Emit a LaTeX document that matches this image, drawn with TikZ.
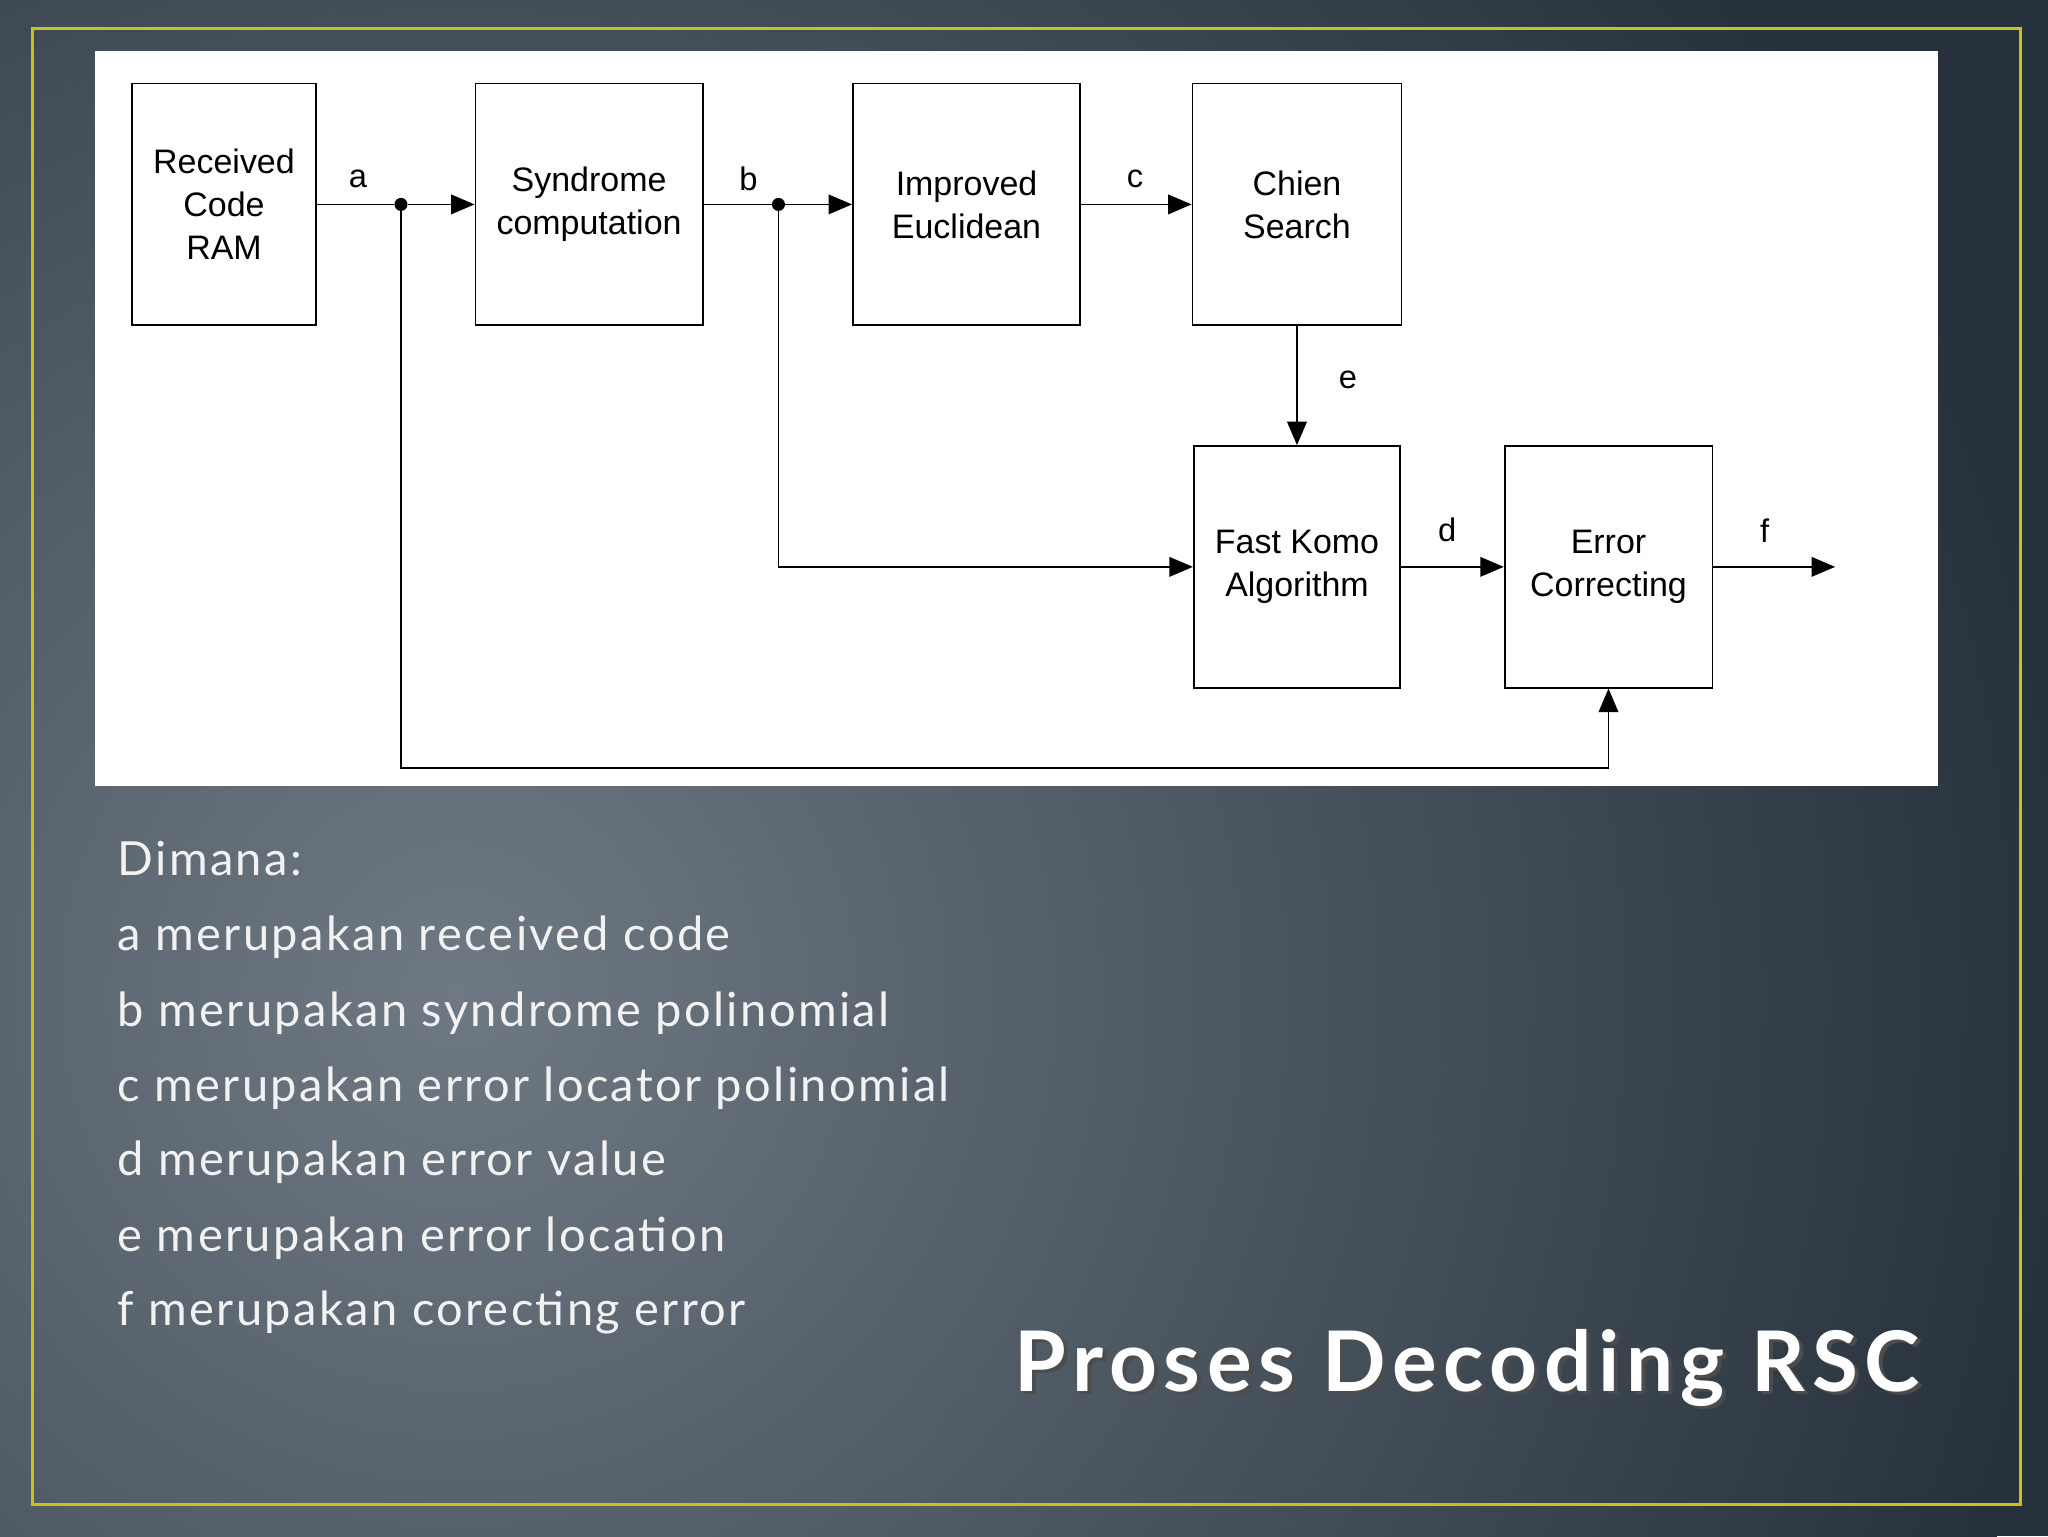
\documentclass[tikz,border=0pt]{standalone}
\usepackage{fontspec}
\setmainfont{Liberation Sans}
\newfontfamily\gill[LetterSpace=5]{Lato}
\newfontfamily\gillT[LetterSpace=8]{Lato}
\usetikzlibrary{arrows.meta,shadings}
\definecolor{bgin}{HTML}{6E7984}
\definecolor{bgout}{HTML}{27313C}
\definecolor{frame}{HTML}{C9C21E}
\begin{document}
\begin{tikzpicture}[x=1pt,y=-1pt,
  blk/.style={draw,line width=1.3pt,minimum width=#1,minimum height=185pt,align=center,font=\fontsize{26}{33}\selectfont,inner sep=0pt},
  con/.style={line width=1.3pt},
  arr/.style={con,-{Triangle[length=18pt,width=15pt]}},
  lab/.style={font=\fontsize{25}{28}\selectfont},
  dot/.style={circle,fill,inner sep=0pt,minimum size=10pt}]
\useasboundingbox (0,0) rectangle (1568,1176);
\fill[bgout] (0,0) rectangle (1568,1176);
\begin{scope}
\clip (0,0) rectangle (1568,1176);
\shade[inner color=bgin,outer color=bgout] (350,760) circle (1250pt);
\end{scope}
\fill[white] (73,39) rectangle (1484,602);
\draw[frame,line width=2.5pt] (25,22) rectangle (1547,1152);
\node[blk=141pt] (rc) at (171.5,156.5) {Received\\Code\\RAM};
\node[blk=174pt] (sc) at (451,156.5) {Syndrome\\computation};
\node[blk=174pt] (ie) at (740,156.5) {Improved\\Euclidean};
\node[blk=160pt] (cs) at (993,156.5) {Chien\\Search};
\node[blk=158pt] (fk) at (993,434) {Fast Komo\\Algorithm};
\node[blk=159pt] (ec) at (1231.5,434) {Error\\Correcting};
\node[dot] (da) at (307,156.5) {};
\node[dot] (db) at (596,156.5) {};
\coordinate (fo) at (1405,434);
\coordinate (a1) at (307,588);
\coordinate (a2) at (1231.5,588);
\coordinate (b1) at (596,434);
\draw[con] (rc.east) -- (da);
\draw[arr] (da) -- (sc.west);
\draw[con] (sc.east) -- (db);
\draw[arr] (db) -- (ie.west);
\draw[arr] (ie.east) -- (cs.west);
\draw[arr] (cs.south) -- (fk.north);
\draw[arr] (fk.east) -- (ec.west);
\draw[arr] (ec.east) -- (fo);
\draw[arr] (da) -- (a1) -- (a2) -- (ec.south);
\draw[arr] (db) -- (b1) -- (fk.west);
\node[lab] at (274,137) {a};
\node[lab] at (573,137) {b};
\node[lab] at (869,137) {c};
\node[lab] at (1032,291) {e};
\node[lab] at (1108,406) {d};
\node[lab] at (1351,406) {f};
\begin{scope}[every node/.style={anchor=base west,text=white!90!gray,font=\gill\fontsize{36}{40}\selectfont,inner sep=0pt}]
\node (t0) at (90,670) {Dimana:};
\node (t1) at (90,728) {a merupakan received code};
\node (t2) at (90,786) {b merupakan syndrome polinomial};
\node (t3) at (90,843) {c merupakan error locator polinomial};
\node (t4) at (90,900) {d merupakan error value};
\node (t5) at (90,958) {e merupakan error location};
\node (t6) at (90,1015) {f merupakan corecting error};
\end{scope}
\node[anchor=base east,inner sep=0pt,text=black!70,font=\gillT\bfseries\fontsize{64}{70}\selectfont] at (1473,1068) {Proses Decoding RSC};
\node[anchor=base east,inner sep=0pt,text=white,font=\gillT\bfseries\fontsize{64}{70}\selectfont] (title) at (1470,1065) {Proses Decoding RSC};
\end{tikzpicture}
\end{document}
